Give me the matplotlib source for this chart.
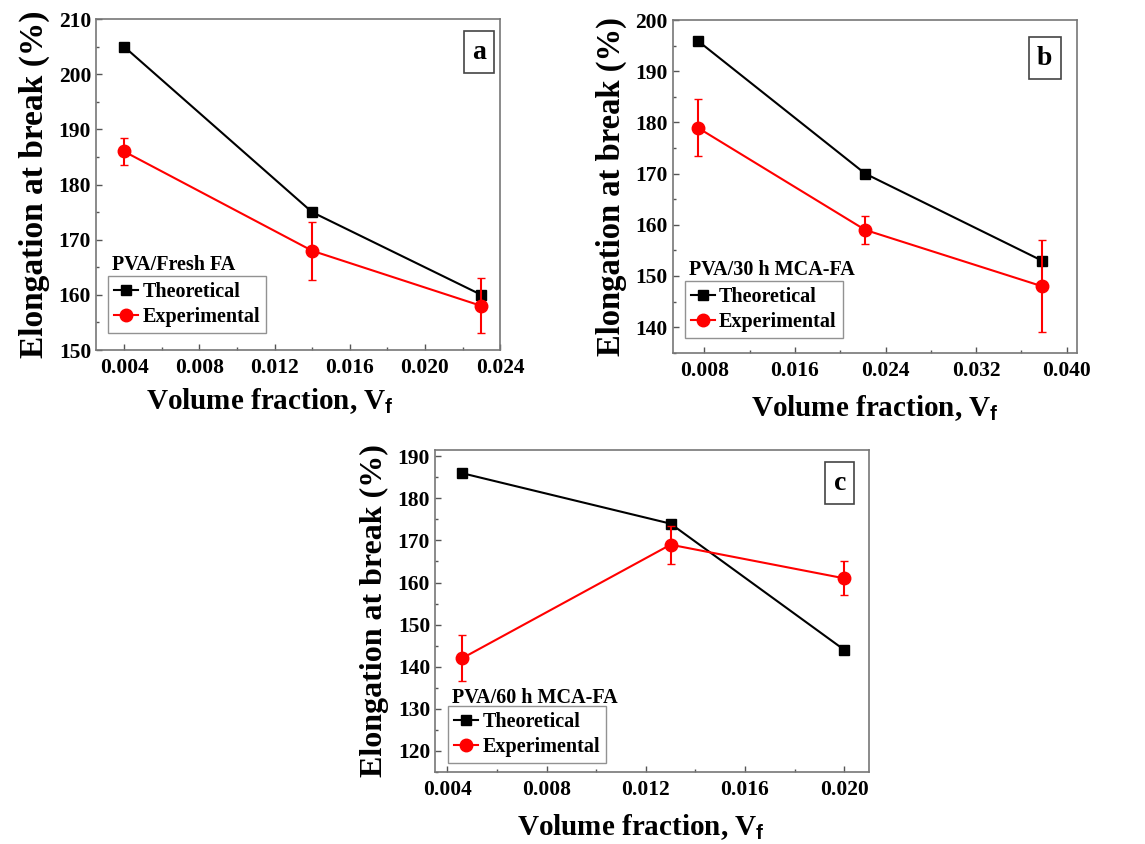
import matplotlib.pyplot as plt
from matplotlib.ticker import MultipleLocator, FormatStrFormatter

plt.rcParams['font.family'] = ['Liberation Serif', 'DejaVu Serif']
plt.rcParams['font.weight'] = 'bold'
plt.rcParams['mathtext.fontset'] = 'custom'
plt.rcParams['mathtext.bf'] = 'Liberation Sans:bold'
plt.rcParams['mathtext.rm'] = 'Liberation Sans:bold'

# ------ Data ------
# panel a : PVA/Fresh FA
xa = [0.004, 0.014, 0.023]
theo_a = [205, 175, 160]
exp_a = [186, 168, 158]
err_a = [2.5, 5.3, 5.0]

# panel b : PVA/30 h MCA-FA
xb = [0.0074, 0.0222, 0.0378]
theo_b = [196, 170, 153]
exp_b = [179, 159, 148]
err_b = [5.5, 2.8, 9.0]

# panel c : PVA/60 h MCA-FA
xc = [0.0046, 0.013, 0.020]
theo_c = [186, 174, 144]
exp_c = [142, 169, 161]
err_c = [5.5, 4.5, 4.0]

names = ['PVA/Fresh FA', 'PVA/30 h MCA-FA', 'PVA/60 h MCA-FA']
letters = ['a', 'b', 'c']


def panel(ax, x, theo, exp, err, name, letter, xlim, ylim, xstep, ystep,
          leg_y, name_y, let_xy, xlab_xy, ylab_size):
    ax.plot(x, theo, color='black', marker='s', markersize=7, lw=1.5,
            label='Theoretical')
    ax.errorbar(x, exp, yerr=err, color='red', fmt='none', capsize=3,
                elinewidth=1.5)
    ax.plot(x, exp, color='red', marker='o', markersize=9, lw=1.5,
            label='Experimental')
    ax.set_xlim(*xlim)
    ax.set_ylim(*ylim)
    ax.xaxis.set_major_locator(MultipleLocator(xstep))
    ax.xaxis.set_minor_locator(MultipleLocator(xstep / 2))
    ax.yaxis.set_major_locator(MultipleLocator(ystep))
    ax.yaxis.set_minor_locator(MultipleLocator(ystep / 2))
    ax.xaxis.set_major_formatter(FormatStrFormatter('%.3f'))
    ax.tick_params(which='both', direction='in', labelsize=15.5, width=1,
                   color='#555555')
    ax.tick_params(which='major', length=4)
    ax.tick_params(which='minor', length=2.5)
    ax.tick_params(axis='x', pad=6)
    for lab in ax.get_xticklabels() + ax.get_yticklabels():
        lab.set_fontweight('bold')
    for s in ax.spines.values():
        s.set_color('#777777')
        s.set_linewidth(1.2)
    ax.set_xlabel(r'Volume fraction, V$_{\mathbf{f}}$', fontsize=21,
                  fontweight='bold')
    ax.xaxis.set_label_coords(*xlab_xy)
    ax.set_ylabel('Elongation at break (%)', fontsize=ylab_size,
                  fontweight='bold', labelpad=6)
    ax.text(0.04, name_y, name, transform=ax.transAxes, fontsize=14.5,
            fontweight='bold', va='center', ha='left')
    leg = ax.legend(loc='lower left', bbox_to_anchor=(0.03, leg_y),
                    borderaxespad=0, frameon=True, fancybox=False,
                    handlelength=1.2, handletextpad=0.2, borderpad=0.3,
                    labelspacing=0.25, prop={'weight': 'bold', 'size': 14.5})
    leg.get_frame().set_edgecolor('#777777')
    leg.get_frame().set_linewidth(1.0)
    ax.text(let_xy[0], let_xy[1], letter, transform=ax.transAxes, fontsize=20,
            fontweight='bold', va='center', ha='center',
            bbox=dict(boxstyle='square,pad=0.3', fc='white', ec='#444444',
                      lw=1.2))


fig = plt.figure(figsize=(11.45, 8.44), dpi=100)
ax1 = fig.add_axes([0.0838, 0.5853, 0.353, 0.392])
ax2 = fig.add_axes([0.5875, 0.5821, 0.3531, 0.394])
ax3 = fig.add_axes([0.3799, 0.0857, 0.379, 0.381])

panel(ax1, xa, theo_a, exp_a, err_a, names[0], letters[0],
      (0.0025, 0.024), (150, 210), 0.004, 10, 0.05, 0.257, (0.948, 0.90),
      (0.43, -0.11), 24)
panel(ax2, xb, theo_b, exp_b, err_b, names[1], letters[1],
      (0.0052, 0.0409), (135, 200), 0.008, 10, 0.044, 0.25, (0.92, 0.886),
      (0.5, -0.12), 23.5)
panel(ax3, xc, theo_c, exp_c, err_c, names[2], letters[2],
      (0.0035, 0.0210), (115, 191.5), 0.004, 10, 0.027, 0.229, (0.933, 0.897),
      (0.475, -0.125), 23)

plt.savefig('out.png', dpi=100)
